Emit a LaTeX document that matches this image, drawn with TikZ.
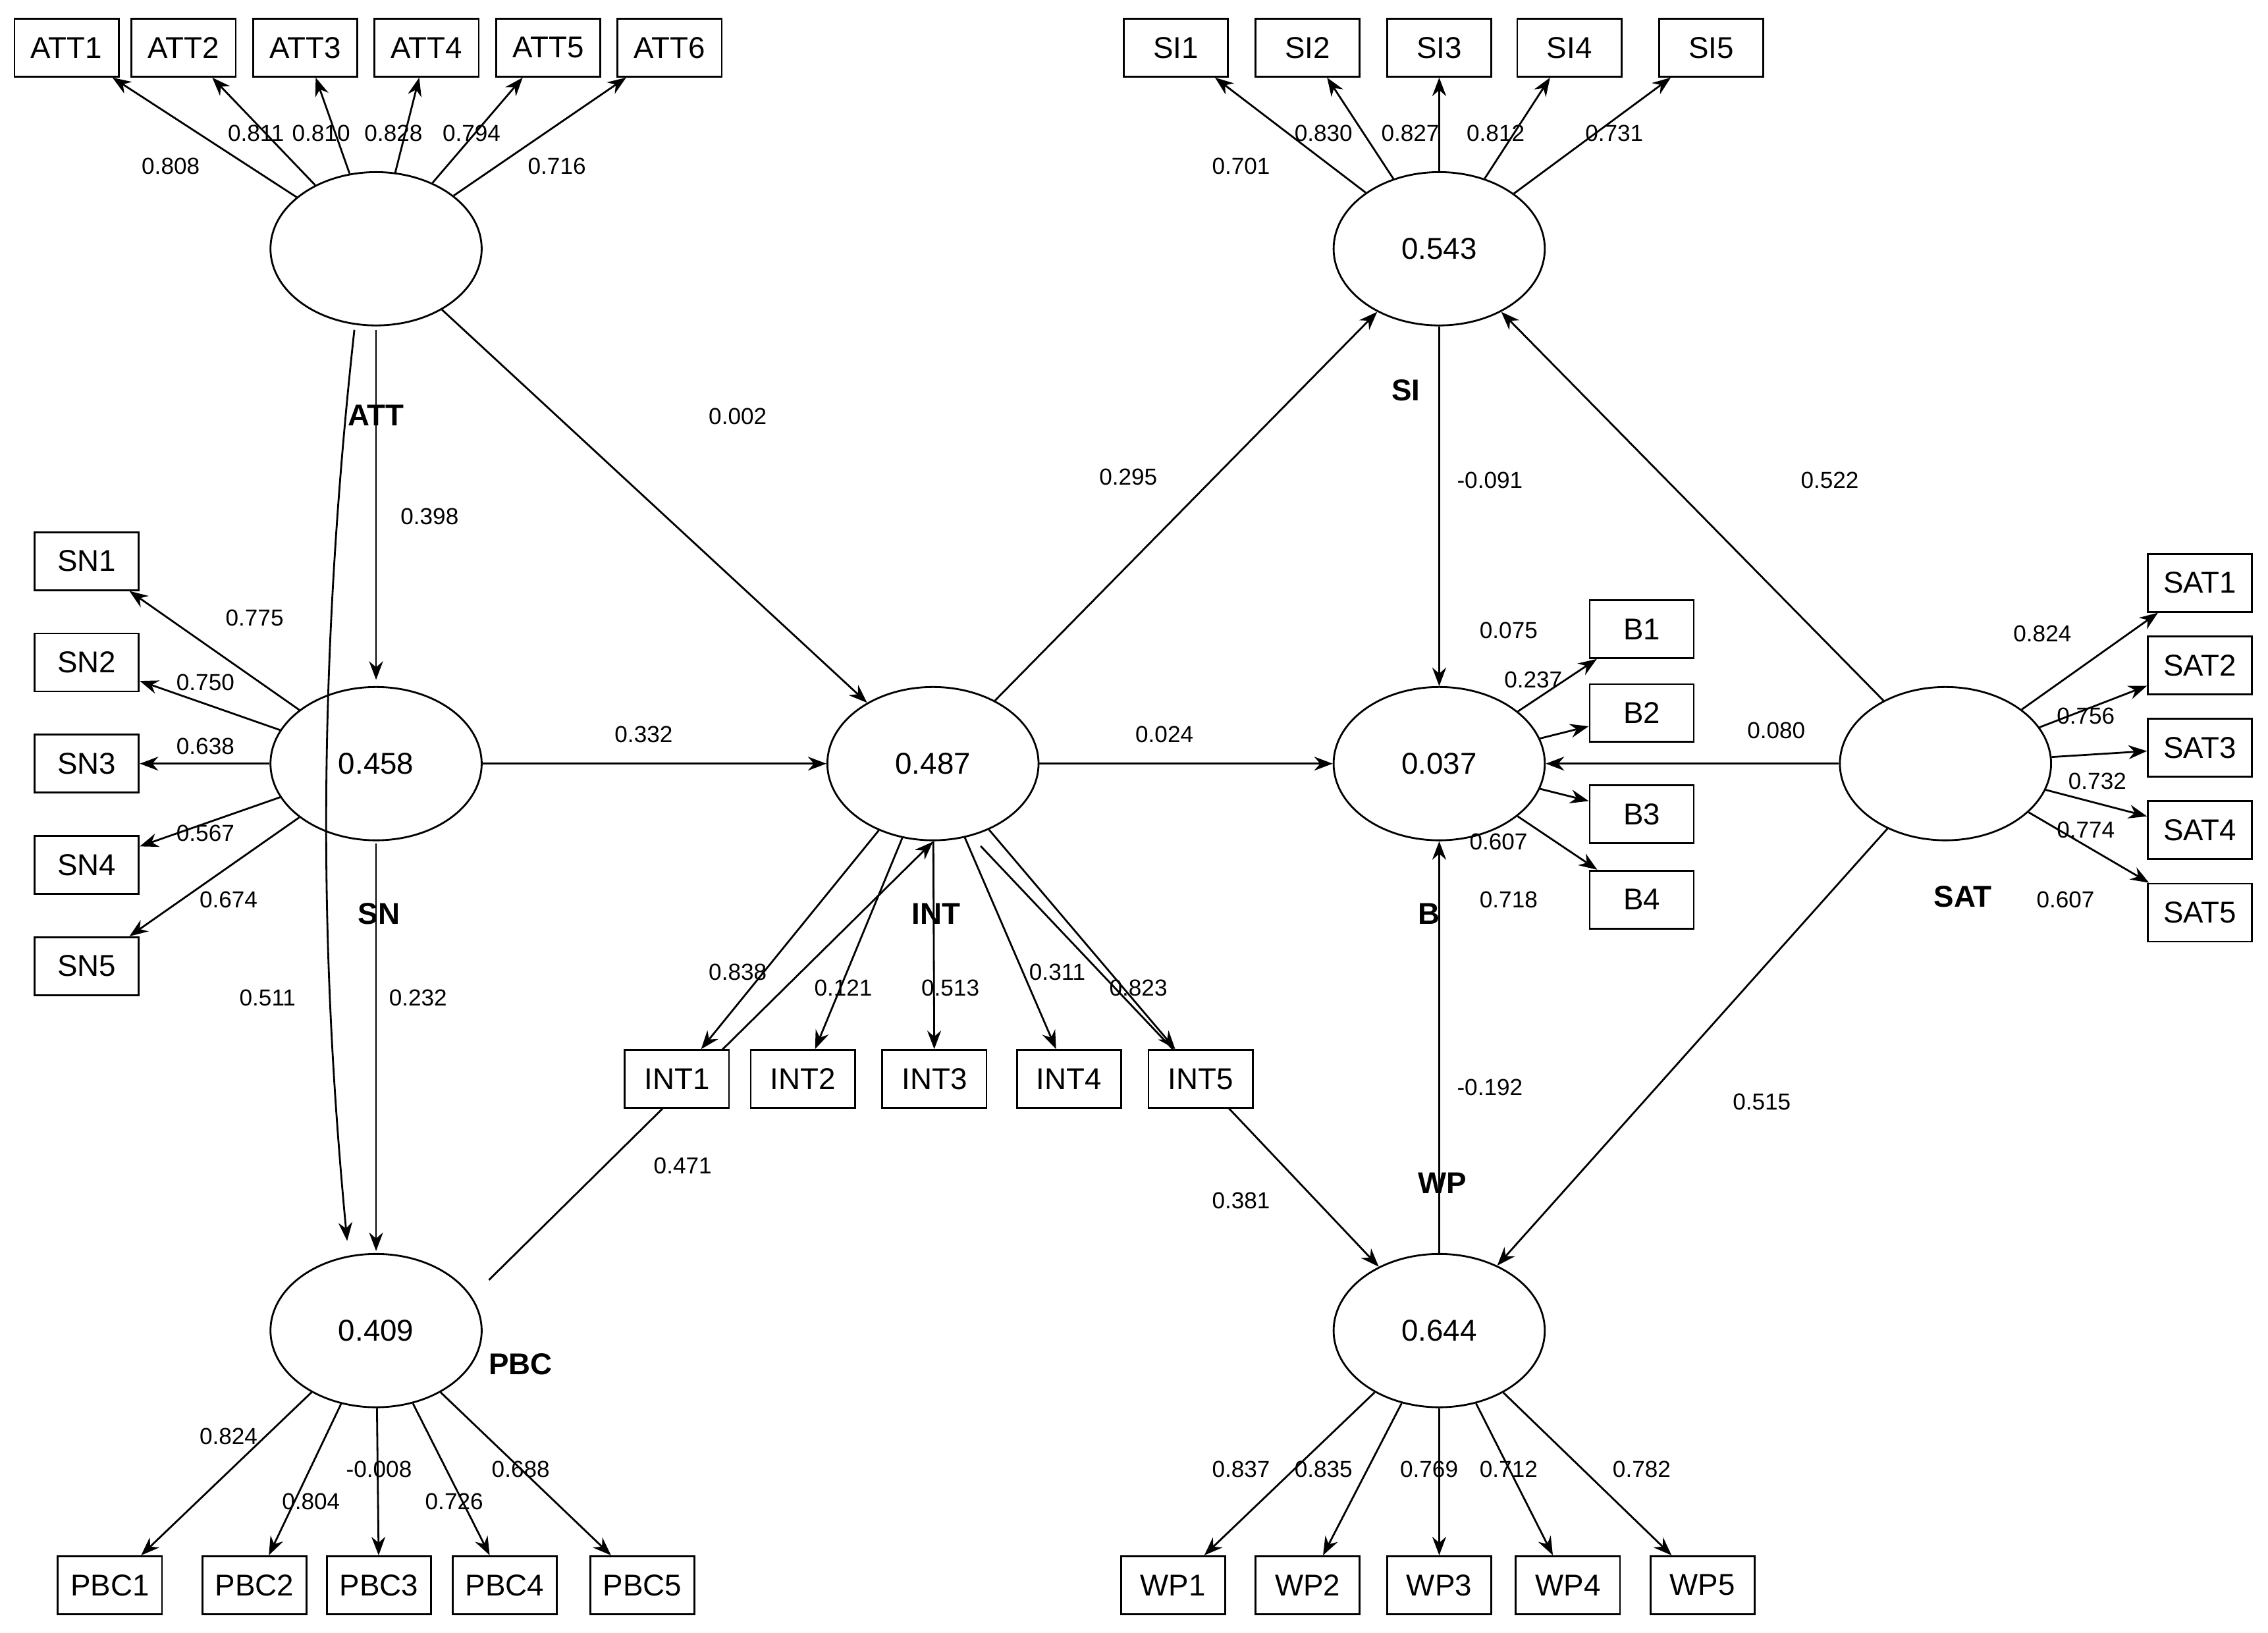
\documentclass[tikz,border=0pt]{standalone}
\usepackage{fontspec}
\setmainfont{Liberation Sans}
\usetikzlibrary{arrows.meta,shapes.geometric}
\begin{document}
\begin{tikzpicture}[x=0.02196cm,y=-0.02196cm,
  lat/.style={draw,ellipse,minimum width=146*0.02196cm,minimum height=106*0.02196cm,font=\fontsize{13}{15}\selectfont,inner sep=0pt},
  box/.style={draw,fill=white,minimum width=72*0.02196cm,minimum height=40*0.02196cm,font=\fontsize{13}{15}\selectfont,inner sep=1pt},
  lbl/.style={font=\fontsize{10}{12}\selectfont,inner sep=0pt},
  nm/.style={font=\bfseries\fontsize{13}{15}\selectfont,inner sep=0pt},
  ar/.style={-{Stealth[length=8pt,width=6pt]},line width=0.8pt},
  every path/.style={line width=0.8pt}]
\useasboundingbox[fill=white] (0,0) rectangle (1568,1129);
% latent
\node[lat] (ATT) at (260,172) {};
\node[lat] (SN) at (260,528) {0.458};
\node[lat] (PBC) at (260,920) {0.409};
\node[lat] (INT) at (645,528) {0.487};
\node[lat] (SI) at (995,172) {0.543};
\node[lat] (B) at (995,528) {0.037};
\node[lat] (WP) at (995,920) {0.644};
\node[lat] (SAT) at (1345,528) {};
% names
\node[nm] (nATT) at (260,287) {ATT};
\node[nm] (nSN) at (262,632) {SN};
\node[nm] (nPBC) at (360,943) {PBC};
\node[nm] (nINT) at (647,632) {INT};
\node[nm] (nSI) at (972,270) {SI};
\node[nm] (nB) at (988,632) {B};
\node[nm] (nWP) at (997,818) {WP};
\node[nm] (nSAT) at (1357,620) {SAT};
% structural paths (drawn before indicator boxes)
\coordinate (cA1) at (245,228);
\coordinate (cA2) at (240,858);
\draw[ar] (cA1) .. controls (215,500) and (225,700) .. (cA2);
\coordinate (ATTb) at (260,228);
\coordinate (SNt) at (260,470);
\draw[ar] (ATTb) -- (SNt);
\coordinate (SNb) at (260,583);
\coordinate (PBCt) at (260,865);
\draw[ar] (SNb) -- (PBCt);
\draw[ar] (ATT) -- (INT);
\draw[ar] (SN) -- (INT);
\coordinate (PBCs) at (338,885);
\coordinate (INTs) at (645,582);
\draw[ar] (PBCs) -- (INTs);
\draw[ar] (INT) -- (SI);
\draw[ar] (INT) -- (B);
\coordinate (INTw) at (678,585);
\draw[ar] (INTw) -- (WP);
\draw[ar] (SI) -- (B);
\draw[ar] (WP) -- (B);
\draw[ar] (SAT) -- (SI);
\draw[ar] (SAT) -- (B);
\draw[ar] (SAT) -- (WP);
% boxes
\foreach \i/\x in {1/46,2/127,3/211,4/295,5/379,6/463}{\node[box] (ATT\i) at (\x,33) {ATT\i};}
\foreach \i/\x in {1/813,2/904,3/995,4/1085,5/1183}{\node[box] (SI\i) at (\x,33) {SI\i};}
\foreach \i/\y in {1/388,2/458,3/528,4/598,5/668}{\node[box] (SN\i) at (60,\y) {SN\i};}
\foreach \i/\y in {1/403,2/460,3/517,4/574,5/631}{\node[box] (SAT\i) at (1521,\y) {SAT\i};}
\foreach \i/\y in {1/435,2/493,3/563,4/622}{\node[box] (B\i) at (1135,\y) {B\i};}
\foreach \i/\x in {1/468,2/555,3/646,4/739,5/830}{\node[box] (INT\i) at (\x,746) {INT\i};}
\foreach \i/\x in {1/76,2/176,3/262,4/349,5/444}{\node[box] (PBC\i) at (\x,1096) {PBC\i};}
\foreach \i/\x in {1/811,2/904,3/995,4/1084,5/1177}{\node[box] (WP\i) at (\x,1096) {WP\i};}
% indicator arrows
\foreach \i in {1,...,6}{\draw[ar] (ATT) -- (ATT\i);}
\foreach \i in {1,...,5}{\draw[ar] (SI) -- (SI\i); \draw[ar] (SN) -- (SN\i); \draw[ar] (SAT) -- (SAT\i);
  \draw[ar] (INT) -- (INT\i); \draw[ar] (PBC) -- (PBC\i); \draw[ar] (WP) -- (WP\i);}
\foreach \i in {1,...,4}{\draw[ar] (B) -- (B\i);}
% path labels
\node[lbl] (l1) at (297,357) {0.398};
\node[lbl] (l2) at (185,690) {0.511};
\node[lbl] (l3) at (289,690) {0.232};
\node[lbl] (l4) at (510,288) {0.002};
\node[lbl] (l5) at (445,508) {0.332};
\node[lbl] (l6) at (472,806) {0.471};
\node[lbl] (l7) at (780,330) {0.295};
\node[lbl] (l8) at (805,508) {0.024};
\node[lbl] (l9) at (858,830) {0.381};
\node[lbl] (l10) at (1030,332) {-0.091};
\node[lbl] (l11) at (1030,752) {-0.192};
\node[lbl] (l12) at (1265,332) {0.522};
\node[lbl] (l13) at (1228,505) {0.080};
\node[lbl] (l14) at (1218,762) {0.515};
% loading labels
\foreach \t/\x/\y [count=\k] in {0.808/118/115,0.811/177/92,0.810/222/92,0.828/272/92,0.794/326/92,0.716/385/115,
  0.701/858/115,0.830/915/92,0.827/975/92,0.812/1034/92,0.731/1116/92,
  0.775/176/427,0.750/142/472,0.638/142/516,0.567/142/576,0.674/158/622,
  0.824/1412/438,0.756/1442/495,0.732/1450/540,0.774/1442/574,0.607/1428/622,
  0.075/1043/436,0.237/1060/470,0.607/1036/582,0.718/1043/622,
  0.838/510/672,0.121/583/683,0.513/657/683,0.311/731/672,0.823/787/683,
  0.824/158/993,0.804/215/1038,-0.008/262/1016,0.726/314/1038,0.688/360/1016,
  0.837/858/1016,0.835/915/1016,0.769/988/1016,0.712/1043/1016,0.782/1135/1016}
  {\node[lbl] (ld\k) at (\x,\y) {\t};}
\end{tikzpicture}
\end{document}
